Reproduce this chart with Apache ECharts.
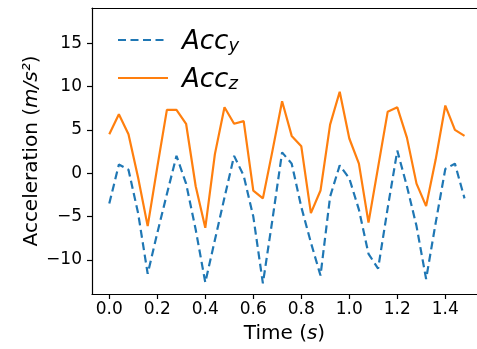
<!DOCTYPE html>
<html>
<head>
<meta charset="utf-8">
<script src="https://cdn.jsdelivr.net/npm/echarts@6/dist/echarts.min.js"></script>
<style>html,body{margin:0;padding:0;background:#fff}#c{width:477px;height:349px}</style>
</head>
<body>
<div id="c"></div>
<script>
const times = [0.00,0.04,0.08,0.12,0.16,0.20,0.24,0.28,0.32,0.36,0.40,0.44,0.48,0.52,0.56,0.60,0.64,0.68,0.72,0.76,0.80,0.84,0.88,0.92,0.96,1.00,1.04,1.08,1.12,1.16,1.20,1.24,1.28,1.32,1.36,1.40,1.44,1.48];
const accY = [-3.5,1.0,0.4,-4.6,-11.6,-6.9,-2.4,2.0,-1.2,-6.5,-12.6,-7.7,-2.8,2.0,-0.3,-5.0,-12.7,-5.3,2.4,1.1,-3.9,-8.0,-11.8,-2.7,0.9,-0.6,-4.2,-9.3,-11.0,-4.0,2.6,-1.5,-6.1,-12.2,-5.7,0.5,1.1,-2.9];
const accZ = [4.5,6.8,4.5,-0.5,-6.1,0.7,7.3,7.3,5.7,-1.5,-6.3,2.2,7.6,5.7,6.0,-2.0,-2.9,2.6,8.3,4.3,3.1,-4.6,-2.0,5.6,9.4,4.0,1.1,-5.7,0.7,7.1,7.6,4.1,-1.2,-3.8,1.6,7.8,5.0,4.3];
const xTickValues = [0.0,0.2,0.4,0.6,0.8,1.0,1.2,1.4];
const yTickValues = [-10,-5,0,5,10,15];
const seriesNames = ['Acc_y','Acc_z'];

const FONT = 'DejaVu Sans';
const fmtNum = (v, d) => v.toFixed(d).replace('-', '\u2212');

const chart = echarts.init(document.getElementById('c'), null, {renderer:'canvas'});
chart.setOption({
  animation: false,
  backgroundColor: '#fff',
  grid: {left: 92, top: 8, right: 0, bottom: 50, containLabel: false},
  legend: {
    left: 112, top: 24, orient: 'vertical',
    itemWidth: 50, itemHeight: 14, itemGap: 12,
    itemStyle: {opacity: 0},
    data: seriesNames,
    formatter: n => '{a|' + n.split('_')[0] + '}{s|' + n.split('_')[1] + '}',
    textStyle: {
      fontFamily: FONT,
      rich: {
        a: {fontFamily: FONT, fontStyle: 'italic', fontSize: 26, color: '#000', lineHeight: 30, verticalAlign: 'bottom', padding: [0,0,0,9]},
        s: {fontFamily: FONT, fontStyle: 'italic', fontSize: 18, color: '#000', lineHeight: 18, verticalAlign: 'bottom'}
      }
    }
  },
  xAxis: [{
    type: 'value', min: -0.072, max: 1.532, position: 'bottom',
    name: '{n|Time (}{i|s}{n|)}', nameLocation: 'middle', nameGap: 30, nameMoveOverlap: false,
    nameTextStyle: {rich: {
      n: {fontFamily: FONT, fontSize: 20, color: '#000'},
      i: {fontFamily: FONT, fontSize: 20, fontStyle: 'italic', color: '#000'}
    }},
    axisLine: {show: true, onZero: false, lineStyle: {color: '#000', width: 1.2}},
    axisTick: {show: true, inside: false, length: 5, lineStyle: {color: '#000', width: 1.2}, customValues: xTickValues},
    axisLabel: {show: true, margin: 7, fontFamily: FONT, fontSize: 17, color: '#000', customValues: xTickValues, formatter: v => fmtNum(v, 1)},
    splitLine: {show: false}
  }, {
    type: 'value', min: -0.072, max: 1.532, position: 'top',
    axisLine: {show: true, onZero: false, lineStyle: {color: '#000', width: 1.2}},
    axisTick: {show: false}, axisLabel: {show: false}, splitLine: {show: false}
  }],
  yAxis: {
    type: 'value', min: -13.93, max: 19.05,
    name: '{n|Acceleration (}{i|m/s\u00b2}{n|)}', nameLocation: 'middle', nameGap: 50, nameRotate: 90, nameMoveOverlap: false,
    nameTextStyle: {rich: {
      n: {fontFamily: FONT, fontSize: 20, color: '#000'},
      i: {fontFamily: FONT, fontSize: 20, fontStyle: 'italic', color: '#000'}
    }},
    axisLine: {show: true, onZero: false, lineStyle: {color: '#000', width: 1.2}},
    axisTick: {show: true, inside: false, length: 5, lineStyle: {color: '#000', width: 1.2}, customValues: yTickValues},
    axisLabel: {show: true, margin: 10, fontFamily: FONT, fontSize: 17, color: '#000', customValues: yTickValues, formatter: v => fmtNum(v, 0)},
    splitLine: {show: false}
  },
  series: [{
    name: seriesNames[0], type: 'line', xAxisIndex: 0,
    data: times.map((t, i) => [t, accY[i]]),
    showSymbol: false, symbol: 'none',
    lineStyle: {color: '#1f77b4', width: 2.2, type: [8, 4.5]},
    itemStyle: {color: '#1f77b4'}
  }, {
    name: seriesNames[1], type: 'line', xAxisIndex: 0,
    data: times.map((t, i) => [t, accZ[i]]),
    showSymbol: false, symbol: 'none',
    lineStyle: {color: '#ff7f0e', width: 2.2},
    itemStyle: {color: '#ff7f0e'}
  }]
});
</script>
</body>
</html>
